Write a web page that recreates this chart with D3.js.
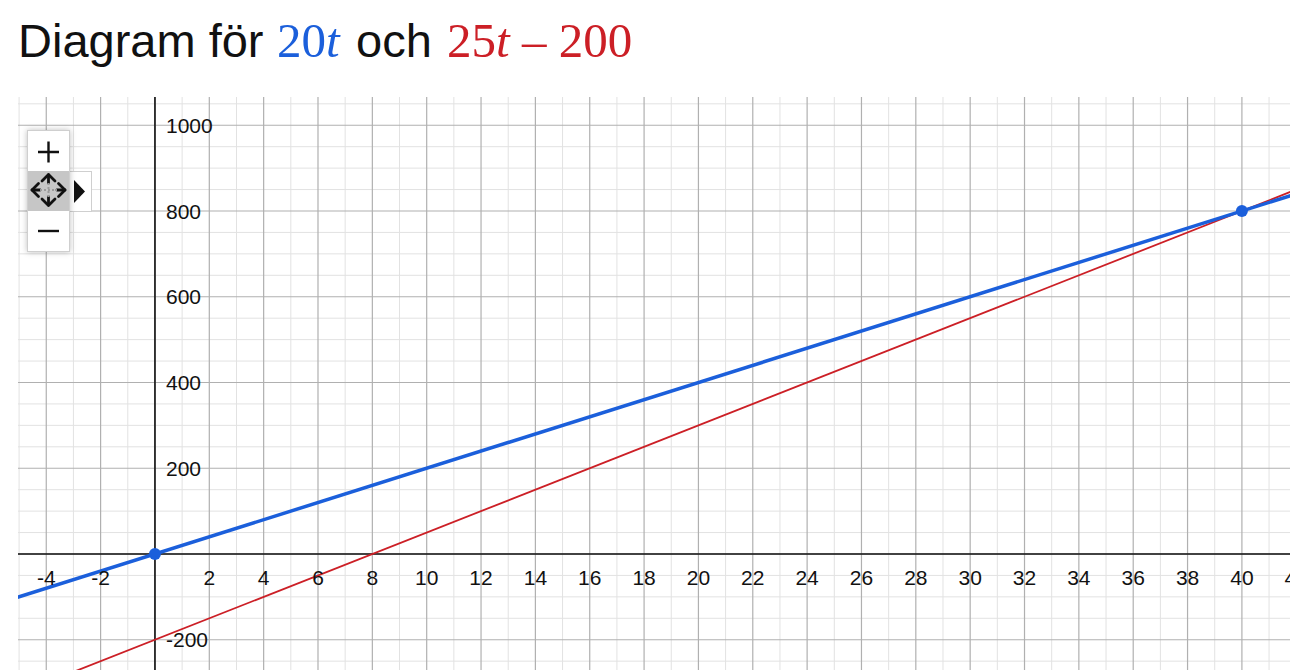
<!DOCTYPE html>
<html>
<head>
<meta charset="UTF-8">
<title>Diagram för 20t och 25t − 200</title>
<script src="https://cdn.jsdelivr.net/npm/d3@7"></script>
<style>
    body { margin: 0; background: #fff; }
    #chart { position: absolute; left: 0; top: 0; width: 1290px; height: 670px; }
    #zoombox { position: absolute; left: 27px; top: 130px; width: 41px; height: 120px;
        border: 1px solid #cfcfcf; background: #fff; box-shadow: 0 0 6px rgba(0,0,0,0.25); }
    #tab { position: absolute; left: 68px; top: 171px; width: 23px; height: 39px;
        border: 1px solid #cfcfcf; border-left: none; background: #fff; }
</style>
</head>
<body>
<div id="chart"></div>
<div id="tab"><svg width="23" height="39"><path d="M6,8 L17,19.5 L6,31 Z" fill="#111"/></svg></div>
<div id="zoombox">
    <svg width="41" height="120">
        <rect x="0" y="40" width="41" height="40" fill="#c6c6c6"/>
        <path d="M10,21 H31 M20.5,10.5 V31.5" stroke="#111" stroke-width="2.4"/>
        <path d="M10,100 H31" stroke="#111" stroke-width="2.4"/>
        <g stroke="#111" stroke-width="2.8" fill="none" stroke-linecap="round" stroke-linejoin="round">
            <path d="M20.5,44 V52 M20.5,66 V74 M4,59 H12 M29,59 H37"/>
            <path d="M14,50 L20.5,43.5 L27,50 M14,68 L20.5,74.5 L27,68 M10.5,52.5 L4,59 L10.5,65.5 M30.5,52.5 L37,59 L30.5,65.5"/>
        </g>
        <path d="M20.5,52 V66 M12,59 H29" stroke="#9a9a9a" stroke-width="2" stroke-dasharray="2,2"/>
    </svg>
</div>
<script>
    // axis ranges of the visible window
    var xDomain = [-5.04, 41.77];
    var yDomain = [-270.6, 1065.9];

    var xTicks = [-4, -2, 2, 4, 6, 8, 10, 12, 14, 16, 18, 20, 22, 24, 26, 28, 30, 32, 34, 36, 38, 40, 42];
    var yTicks = [-200, 200, 400, 600, 800, 1000];
    var xMinorStep = 1, xMajorStep = 2;
    var yMinorStep = 50, yMajorStep = 200;

    var blueLine = [[-6, -120], [43, 860]];      // 20t
    var redLine = [[-6, -350], [43, 875]];       // 25t - 200
    var crossPoints = [[0, 0], [40, 800]];

    var blue = '#1b5fdb', red = '#cc1f26';

    function drawChart() {
        var width = 1290, height = 670;
        var pLeft = 18, pRight = 1290, pTop = 97, pBottom = 670;

        var x = d3.scaleLinear().domain(xDomain).range([pLeft, pRight]);
        var y = d3.scaleLinear().domain(yDomain).range([pBottom, pTop]);

        var svg = d3.select('#chart').append('svg')
                .attr('width', width)
                .attr('height', height);

        // title
        var title = svg.append('text')
                .attr('y', 57)
                .style('font-size', '47px');
        title.append('tspan').attr('x', 18)
                .style('font-family', 'Liberation Sans, Arial, sans-serif').attr('fill', '#111')
                .text('Diagram för');
        var t1 = title.append('tspan').attr('x', 277)
                .style('font-family', 'Liberation Serif, Times New Roman, serif').style('font-size', '49px').attr('fill', blue);
        t1.append('tspan').text('20');
        t1.append('tspan').style('font-style', 'italic').text('t');
        title.append('tspan').attr('x', 356)
                .style('font-family', 'Liberation Sans, Arial, sans-serif').attr('fill', '#111')
                .text('och');
        var t2 = title.append('tspan').attr('x', 447)
                .style('font-family', 'Liberation Serif, Times New Roman, serif').style('font-size', '49px').attr('fill', red);
        t2.append('tspan').text('25');
        t2.append('tspan').style('font-style', 'italic').text('t');
        t2.append('tspan').text(' \u2013 200');

        svg.append('clipPath').attr('id', 'plotclip')
                .append('rect')
                .attr('x', pLeft).attr('y', pTop)
                .attr('width', pRight - pLeft).attr('height', pBottom - pTop);

        var plot = svg.append('g').attr('clip-path', 'url(#plotclip)');

        // grid
        var xMinor = d3.range(Math.ceil(xDomain[0]), xDomain[1], xMinorStep).filter(function(d) { return d % xMajorStep !== 0; });
        var xMajor = d3.range(Math.ceil(xDomain[0] / xMajorStep) * xMajorStep, xDomain[1], xMajorStep);
        var yMinor = d3.range(Math.ceil(yDomain[0] / yMinorStep) * yMinorStep, yDomain[1], yMinorStep).filter(function(d) { return d % yMajorStep !== 0; });
        var yMajor = d3.range(Math.ceil(yDomain[0] / yMajorStep) * yMajorStep, yDomain[1], yMajorStep);

        function vlines(data, color, w) {
            plot.append('g').selectAll('line').data(data).enter().append('line')
                    .attr('x1', function(d) { return x(d); }).attr('x2', function(d) { return x(d); })
                    .attr('y1', pTop).attr('y2', pBottom)
                    .attr('stroke', color).attr('stroke-width', w);
        }
        function hlines(data, color, w) {
            plot.append('g').selectAll('line').data(data).enter().append('line')
                    .attr('y1', function(d) { return y(d); }).attr('y2', function(d) { return y(d); })
                    .attr('x1', pLeft).attr('x2', pRight)
                    .attr('stroke', color).attr('stroke-width', w);
        }
        vlines(xMinor, '#e2e2e2', 1);
        hlines(yMinor, '#e2e2e2', 1);
        vlines(xMajor, '#b0b0b0', 1.2);
        hlines(yMajor, '#b0b0b0', 1.2);

        // axes
        plot.append('line').attr('x1', pLeft).attr('x2', pRight)
                .attr('y1', y(0)).attr('y2', y(0))
                .attr('stroke', '#111').attr('stroke-width', 1.6);
        plot.append('line').attr('x1', x(0)).attr('x2', x(0))
                .attr('y1', pTop).attr('y2', pBottom)
                .attr('stroke', '#111').attr('stroke-width', 1.6);

        // tick labels
        svg.append('g').selectAll('text').data(xTicks).enter().append('text')
                .attr('x', function(d) { return x(d); })
                .attr('y', y(0) + 31)
                .attr('text-anchor', 'middle')
                .style('font-family', 'Liberation Sans, Arial, sans-serif')
                .style('font-size', '21px')
                .attr('fill', '#111')
                .text(function(d) { return d; });
        svg.append('g').selectAll('text').data(yTicks).enter().append('text')
                .attr('x', x(0) + 11)
                .attr('y', function(d) { return y(d); })
                .attr('dy', '0.36em')
                .style('font-family', 'Liberation Sans, Arial, sans-serif')
                .style('font-size', '21px')
                .attr('fill', '#111')
                .text(function(d) { return d; });

        // function graphs
        var line = d3.line()
                .x(function(d) { return x(d[0]); })
                .y(function(d) { return y(d[1]); });
        plot.append('path').datum(redLine)
                .attr('d', line).attr('fill', 'none')
                .attr('stroke', red).attr('stroke-width', 1.8);
        plot.append('path').datum(blueLine)
                .attr('d', line).attr('fill', 'none')
                .attr('stroke', blue).attr('stroke-width', 3.5);

        plot.selectAll('circle').data(crossPoints).enter().append('circle')
                .attr('cx', function(d) { return x(d[0]); })
                .attr('cy', function(d) { return y(d[1]); })
                .attr('r', 6)
                .attr('fill', blue);
    }
    drawChart();
</script>
</body>
</html>
